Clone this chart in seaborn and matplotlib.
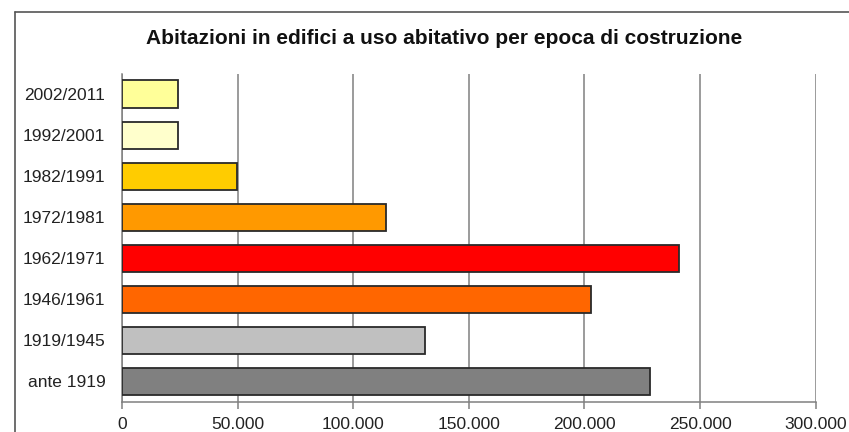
import matplotlib
matplotlib.use("Agg")
import matplotlib.pyplot as plt
import seaborn as sns
import pandas as pd
from matplotlib.ticker import FuncFormatter, MultipleLocator
from matplotlib.lines import Line2D

categories = ["2002/2011", "1992/2001", "1982/1991", "1972/1981",
              "1962/1971", "1946/1961", "1919/1945", "ante 1919"]
values = [24400, 24100, 49700, 114200, 241000, 202800, 130900, 228400]
colors = ["#FFFF99", "#FFFFCC", "#FFCC00", "#FF9900",
          "#FF0000", "#FF6600", "#C0C0C0", "#808080"]
title = "Abitazioni in edifici a uso abitativo per epoca di costruzione"

sns.set_theme(style="white")
plt.rcParams['font.family'] = ['Liberation Sans', 'DejaVu Sans']

df = pd.DataFrame({"epoca": categories, "valore": values})

fig = plt.figure(figsize=(8.49, 4.32), dpi=100)
ax = fig.add_axes([122/849, 1-402/432, (815.7-122)/849, (402-73.5)/432])

sns.barplot(data=df, y="epoca", x="valore", hue="epoca", palette=colors,
            order=categories, hue_order=categories, legend=False,
            orient="h", width=0.66, edgecolor="#2a2a2a", linewidth=1.3,
            saturation=1, ax=ax, zorder=3)

ax.set_xlim(0, 300000)
ax.xaxis.set_major_locator(MultipleLocator(50000))
ax.xaxis.set_major_formatter(FuncFormatter(lambda v, p: f"{int(v):,}".replace(",", ".")))
ax.grid(axis="x", color="#808080", linewidth=1.1, zorder=0)
ax.grid(axis="y", visible=False)
ax.set_axisbelow(True)
ax.set_xlabel("")
ax.set_ylabel("")

for s in ["top", "right"]:
    ax.spines[s].set_visible(False)
for s in ["left", "bottom"]:
    ax.spines[s].set_visible(True)
    ax.spines[s].set_color("#808080")
    ax.spines[s].set_linewidth(1.1)

ax.tick_params(axis="x", which="major", bottom=True, length=5, width=1.1,
               color="#808080", labelsize=12.5, pad=6, labelcolor="#222222")
ax.tick_params(axis="y", length=0, labelsize=12.5, pad=12, labelcolor="#222222")

fig.text(444/849, 1-38/432, title, ha="center", va="center",
         fontsize=15, fontweight="bold", color="#111111")

# outer frame (top and left edges visible)
fig.add_artist(Line2D([15/849, 1.0], [1-12/432, 1-12/432], transform=fig.transFigure,
                      color="#555555", linewidth=1.2))
fig.add_artist(Line2D([15/849, 15/849], [0.0, 1-12/432], transform=fig.transFigure,
                      color="#555555", linewidth=1.2))

fig.savefig("out.png", dpi=100)
